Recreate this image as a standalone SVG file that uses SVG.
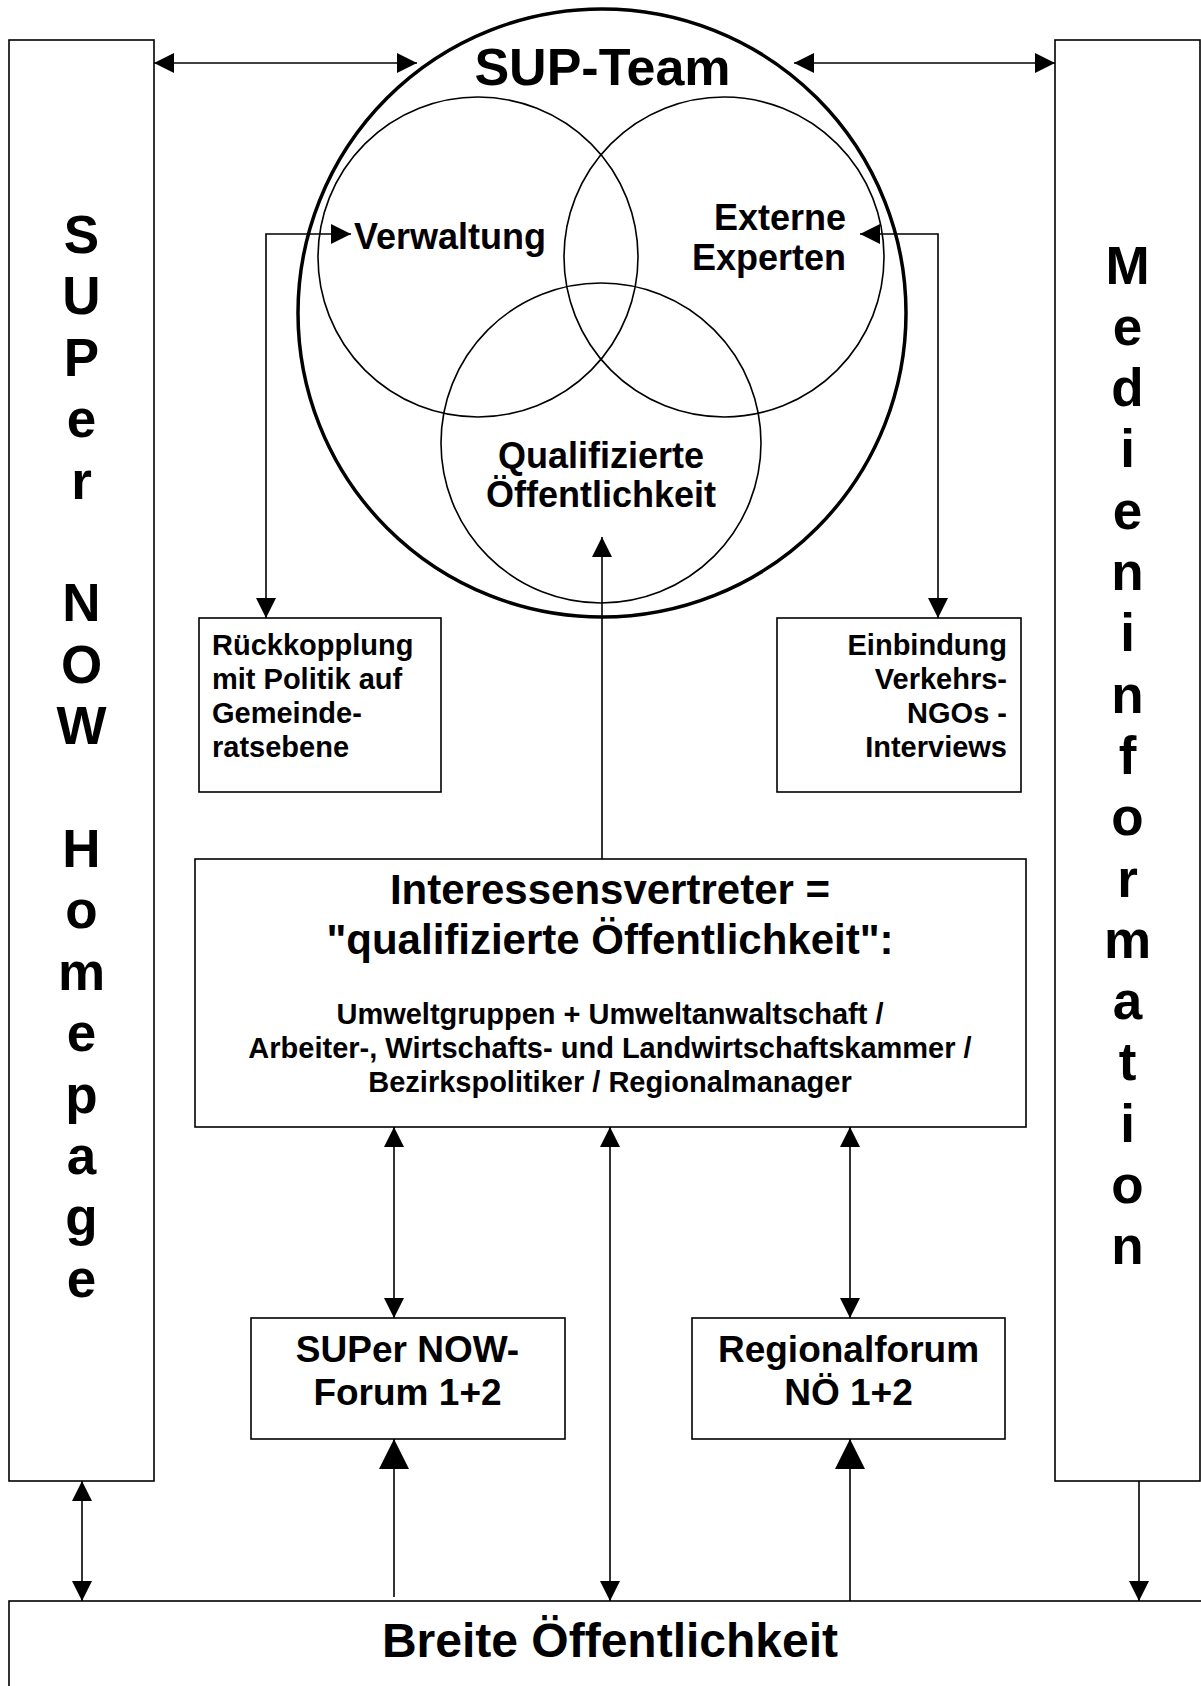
<svg xmlns="http://www.w3.org/2000/svg" width="1201" height="1686" viewBox="0 0 1201 1686">
<style>
text{font-family:"Liberation Sans",Arial,sans-serif;font-weight:bold;fill:#000}
.box{fill:#fff;stroke:#000;stroke-width:1.6}
.circ{fill:none;stroke:#000;stroke-width:1.6}
.big{fill:none;stroke:#000;stroke-width:3.5}
.con{fill:none;stroke:#000;stroke-width:1.6}
.vert{font-size:53px;text-anchor:middle}
</style>
<defs>
<marker id="ah" markerUnits="userSpaceOnUse" markerWidth="20" markerHeight="20" refX="20" refY="10" orient="auto-start-reverse"><path d="M0,0 L20,10 L0,20 z" fill="#000"/></marker>
<marker id="ahL" markerUnits="userSpaceOnUse" markerWidth="30" markerHeight="30" refX="30" refY="15" orient="auto-start-reverse"><path d="M0,0 L30,15 L0,30 z" fill="#000"/></marker>
</defs>
<rect width="1201" height="1686" fill="#fff"/>

<g id="homepage">
<rect class="box" x="9" y="40" width="145" height="1441"/>
<text class="vert"><tspan x="81.5" y="253">S</tspan><tspan x="81.5" y="314.4">U</tspan><tspan x="81.5" y="375.8">P</tspan><tspan x="81.5" y="437.2">e</tspan><tspan x="81.5" y="498.6">r</tspan><tspan x="81.5" y="621.4">N</tspan><tspan x="81.5" y="682.8">O</tspan><tspan x="81.5" y="744.2">W</tspan><tspan x="81.5" y="867">H</tspan><tspan x="81.5" y="928.4">o</tspan><tspan x="81.5" y="989.8">m</tspan><tspan x="81.5" y="1051.2">e</tspan><tspan x="81.5" y="1112.6">p</tspan><tspan x="81.5" y="1174">a</tspan><tspan x="81.5" y="1235.4">g</tspan><tspan x="81.5" y="1296.8">e</tspan></text>
</g>

<g id="medieninformation">
<rect class="box" x="1055" y="40" width="145" height="1441"/>
<text class="vert"><tspan x="1127.5" y="283.5">M</tspan><tspan x="1127.5" y="344.8">e</tspan><tspan x="1127.5" y="406.1">d</tspan><tspan x="1127.5" y="467.4">i</tspan><tspan x="1127.5" y="528.7">e</tspan><tspan x="1127.5" y="590">n</tspan><tspan x="1127.5" y="651.3">i</tspan><tspan x="1127.5" y="712.6">n</tspan><tspan x="1127.5" y="773.9">f</tspan><tspan x="1127.5" y="835.2">o</tspan><tspan x="1127.5" y="896.5">r</tspan><tspan x="1127.5" y="957.8">m</tspan><tspan x="1127.5" y="1019.1">a</tspan><tspan x="1127.5" y="1080.4">t</tspan><tspan x="1127.5" y="1141.7">i</tspan><tspan x="1127.5" y="1203">o</tspan><tspan x="1127.5" y="1264.3">n</tspan></text>
</g>

<g id="sup-team">
<circle class="big" cx="602" cy="313" r="304"/>
<text x="602.5" y="85" font-size="52" text-anchor="middle">SUP-Team</text>
</g>

<g id="verwaltung">
<circle class="circ" cx="478" cy="257" r="160"/>
<text x="354" y="249" font-size="36">Verwaltung</text>
</g>

<g id="externe-experten">
<circle class="circ" cx="724" cy="257" r="160"/>
<text x="846" y="230" font-size="36" text-anchor="end">Externe</text>
<text x="846" y="270" font-size="36" text-anchor="end">Experten</text>
</g>

<g id="qualifizierte-oeffentlichkeit">
<circle class="circ" cx="601" cy="443" r="160"/>
<text x="601" y="468" font-size="36" text-anchor="middle">Qualifizierte</text>
<text x="601" y="507" font-size="36" text-anchor="middle">Öffentlichkeit</text>
</g>

<g id="rueckkopplung">
<rect class="box" x="199" y="618" width="242" height="174"/>
<text font-size="29"><tspan x="212" y="655">Rückkopplung</tspan><tspan x="212" y="689">mit Politik auf</tspan><tspan x="212" y="723">Gemeinde-</tspan><tspan x="212" y="757">ratsebene</tspan></text>
</g>

<g id="einbindung">
<rect class="box" x="777" y="618" width="244" height="174"/>
<text font-size="29" text-anchor="end"><tspan x="1007" y="655">Einbindung</tspan><tspan x="1007" y="689">Verkehrs-</tspan><tspan x="1007" y="723">NGOs -</tspan><tspan x="1007" y="757">Interviews</tspan></text>
</g>

<g id="interessensvertreter">
<rect class="box" x="195" y="859" width="831" height="268"/>
<text font-size="42" text-anchor="middle"><tspan x="610" y="904">Interessensvertreter =</tspan><tspan x="610" y="954">"qualifizierte Öffentlichkeit":</tspan></text>
<text font-size="29" text-anchor="middle"><tspan x="610" y="1024">Umweltgruppen + Umweltanwaltschaft /</tspan><tspan x="610" y="1058">Arbeiter-, Wirtschafts- und Landwirtschaftskammer /</tspan><tspan x="610" y="1092">Bezirkspolitiker / Regionalmanager</tspan></text>
</g>

<g id="super-now-forum">
<rect class="box" x="251" y="1318" width="314" height="121"/>
<text font-size="37" text-anchor="middle"><tspan x="407.5" y="1362">SUPer NOW-</tspan><tspan x="407.5" y="1405">Forum 1+2</tspan></text>
</g>

<g id="regionalforum">
<rect class="box" x="692" y="1318" width="313" height="121"/>
<text font-size="37" text-anchor="middle"><tspan x="848.5" y="1362">Regionalforum</tspan><tspan x="848.5" y="1405">NÖ 1+2</tspan></text>
</g>

<g id="breite-oeffentlichkeit">
<rect class="box" x="9" y="1601" width="1200" height="100"/>
<text x="610" y="1657" font-size="48" text-anchor="middle">Breite Öffentlichkeit</text>
</g>

<g id="connectors">
<path class="con" d="M154,63 H417" marker-start="url(#ah)" marker-end="url(#ah)"/>
<path class="con" d="M794,63 H1055" marker-start="url(#ah)" marker-end="url(#ah)"/>
<path class="con" d="M351,234 H266 V618" marker-start="url(#ah)" marker-end="url(#ah)"/>
<path class="con" d="M860,234 H938 V618" marker-start="url(#ah)" marker-end="url(#ah)"/>
<path class="con" d="M602,859 V537" marker-end="url(#ah)"/>
<path class="con" d="M394,1127 V1318" marker-start="url(#ah)" marker-end="url(#ah)"/>
<path class="con" d="M610,1127 V1601" marker-start="url(#ah)" marker-end="url(#ah)"/>
<path class="con" d="M850,1127 V1318" marker-start="url(#ah)" marker-end="url(#ah)"/>
<path class="con" d="M394,1597 V1439" marker-end="url(#ahL)"/>
<path class="con" d="M850,1601 V1439" marker-end="url(#ahL)"/>
<path class="con" d="M82,1481 V1601" marker-start="url(#ah)" marker-end="url(#ah)"/>
<path class="con" d="M1139,1481 V1601" marker-end="url(#ah)"/>
</g>
</svg>
